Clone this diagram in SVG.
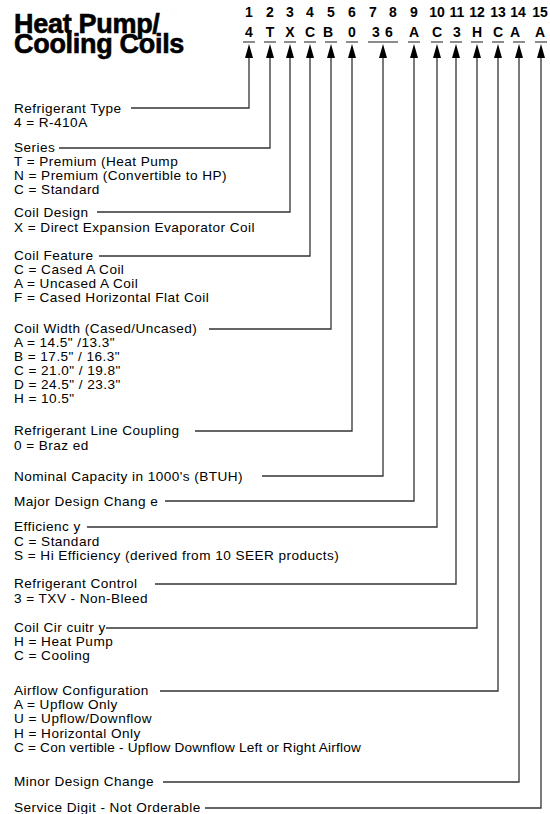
<svg xmlns="http://www.w3.org/2000/svg" width="550" height="814" viewBox="0 0 550 814">
<style>
.t{font-family:"Liberation Sans",Arial,sans-serif;font-size:13.6px;letter-spacing:0.45px;fill:#000}
.h{font-family:"Liberation Sans",Arial,sans-serif;font-size:27px;font-weight:bold;fill:#000;stroke:#000;stroke-width:0.6;letter-spacing:-0.3px}
.n{font-family:"Liberation Sans",Arial,sans-serif;font-size:14px;font-weight:bold;fill:#000;text-anchor:middle}
.c{stroke:#333;stroke-width:1.3;fill:none}
.u{stroke:#666;stroke-width:1.5}
.a{fill:#000}
</style>
<rect width="550" height="814" fill="#fff"/>
<g id="title">
<text class="h" x="14" y="33">Heat Pump/<tspan x="14" dy="20">Cooling Coils</tspan></text>
</g>
<g id="header">
<text class="n" y="17"><tspan x="249">1</tspan><tspan x="270">2</tspan><tspan x="290">3</tspan><tspan x="310">4</tspan><tspan x="331">5</tspan><tspan x="352">6</tspan><tspan x="373">7</tspan><tspan x="393">8</tspan><tspan x="414">9</tspan><tspan x="437">10</tspan><tspan x="457">11</tspan><tspan x="477">12</tspan><tspan x="498">13</tspan><tspan x="518">14</tspan><tspan x="540">15</tspan></text>
<text class="n" y="37"><tspan x="249">4</tspan><tspan x="270">T</tspan><tspan x="290">X</tspan><tspan x="310">C</tspan><tspan x="328">B</tspan><tspan x="352">0</tspan><tspan x="376">3</tspan><tspan x="389">6</tspan><tspan x="414">A</tspan><tspan x="437">C</tspan><tspan x="457">3</tspan><tspan x="477">H</tspan><tspan x="498">C</tspan><tspan x="515">A</tspan><tspan x="540">A</tspan></text>
<g class="u">
<line x1="243" y1="42" x2="255" y2="42"/>
<line x1="264" y1="42" x2="276" y2="42"/>
<line x1="284" y1="42" x2="296" y2="42"/>
<line x1="304" y1="42" x2="316" y2="42"/>
<line x1="325" y1="42" x2="337" y2="42"/>
<line x1="346" y1="42" x2="358" y2="42"/>
<line x1="368" y1="42" x2="398" y2="42"/>
<line x1="408" y1="42" x2="420" y2="42"/>
<line x1="431" y1="42" x2="443" y2="42"/>
<line x1="450" y1="42" x2="462" y2="42"/>
<line x1="471" y1="42" x2="483" y2="42"/>
<line x1="492" y1="42" x2="504" y2="42"/>
<line x1="513" y1="42" x2="525" y2="42"/>
<line x1="535" y1="42" x2="547" y2="42"/>
</g>
<g class="a">
<polygon points="249,44 245,58 253,58"/>
<polygon points="270,44 266,58 274,58"/>
<polygon points="290,44 286,58 294,58"/>
<polygon points="310,44 306,58 314,58"/>
<polygon points="331,44 327,58 335,58"/>
<polygon points="352,44 348,58 356,58"/>
<polygon points="383,44 379,58 387,58"/>
<polygon points="414,44 410,58 418,58"/>
<polygon points="437,44 433,58 441,58"/>
<polygon points="456,44 452,58 460,58"/>
<polygon points="477,44 473,58 481,58"/>
<polygon points="498,44 494,58 502,58"/>
<polygon points="519,44 515,58 523,58"/>
<polygon points="541,44 537,58 545,58"/>
</g>
</g>
<g id="connectors" class="c">
<polyline points="131,108 249,108 249,58"/>
<polyline points="59,148 270,148 270,58"/>
<polyline points="97,212 290,212 290,58"/>
<polyline points="99,256 310,256 310,58"/>
<polyline points="209,329 331,329 331,58"/>
<polyline points="195,431 352,431 352,58"/>
<polyline points="262,476 383,476 383,58"/>
<polyline points="165,501 414,501 414,58"/>
<polyline points="87,527 437,527 437,58"/>
<polyline points="155,584 456,584 456,58"/>
<polyline points="106,628 477,628 477,58"/>
<polyline points="160,691 498,691 498,58"/>
<polyline points="163,782 519,782 519,58"/>
<polyline points="205,808 541,808 541,58"/>
</g>
<g id="refrigerant-type">
<text class="t" x="14" y="113">Refrigerant Type<tspan x="14" dy="14">4 = R-410A</tspan></text>
</g>
<g id="series">
<text class="t" x="14" y="152">Series<tspan x="14" dy="14">T = Premium (Heat Pump</tspan><tspan x="14" dy="14">N = Premium (Convertible to HP)</tspan><tspan x="14" dy="14">C = Standard</tspan></text>
</g>
<g id="coil-design">
<text class="t" x="14" y="217">Coil Design<tspan x="14" dy="15">X = Direct Expansion Evaporator Coil</tspan></text>
</g>
<g id="coil-feature">
<text class="t" x="14" y="259.5">Coil Feature<tspan x="14" dy="14">C = Cased A Coil</tspan><tspan x="14" dy="14">A = Uncased A Coil</tspan><tspan x="14" dy="14">F = Cased Horizontal Flat Coil</tspan></text>
</g>
<g id="coil-width">
<text class="t" x="14" y="333">Coil Width (Cased/Uncased)<tspan x="14" dy="14">A = 14.5" /13.3"</tspan><tspan x="14" dy="14">B = 17.5" / 16.3"</tspan><tspan x="14" dy="14">C = 21.0" / 19.8"</tspan><tspan x="14" dy="14">D = 24.5" / 23.3"</tspan><tspan x="14" dy="14">H = 10.5"</tspan></text>
</g>
<g id="line-coupling">
<text class="t" x="14" y="435">Refrigerant Line Coupling<tspan x="14" dy="15">0 = Braz ed</tspan></text>
</g>
<g id="nominal-capacity">
<text class="t" x="14" y="481">Nominal Capacity in 1000's (BTUH)</text>
</g>
<g id="major-design">
<text class="t" x="14" y="506">Major Design Chang e</text>
</g>
<g id="efficiency">
<text class="t" x="14" y="531">Efficienc y<tspan x="14" dy="15">C = Standard</tspan><tspan x="14" dy="14">S = Hi Efficiency (derived from 10 SEER products)</tspan></text>
</g>
<g id="refrigerant-control">
<text class="t" x="14" y="588">Refrigerant Control<tspan x="14" dy="15">3 = TXV - Non-Bleed</tspan></text>
</g>
<g id="coil-circuitry">
<text class="t" x="14" y="632">Coil Cir cuitr y<tspan x="14" dy="14">H = Heat Pump</tspan><tspan x="14" dy="14">C = Cooling</tspan></text>
</g>
<g id="airflow">
<text class="t" x="14" y="695">Airflow Configuration<tspan x="14" dy="14">A = Upflow Only</tspan><tspan x="14" dy="14">U = Upflow/Downflow</tspan><tspan x="14" dy="14.5">H = Horizontal Only</tspan><tspan x="14" dy="14" letter-spacing="0.2">C = Con vertible - Upflow Downflow Left or Right Airflow</tspan></text>
</g>
<g id="minor-design">
<text class="t" x="14" y="786">Minor Design Change</text>
</g>
<g id="service-digit">
<text class="t" x="14" y="812">Service Digit - Not Orderable</text>
</g>
</svg>
